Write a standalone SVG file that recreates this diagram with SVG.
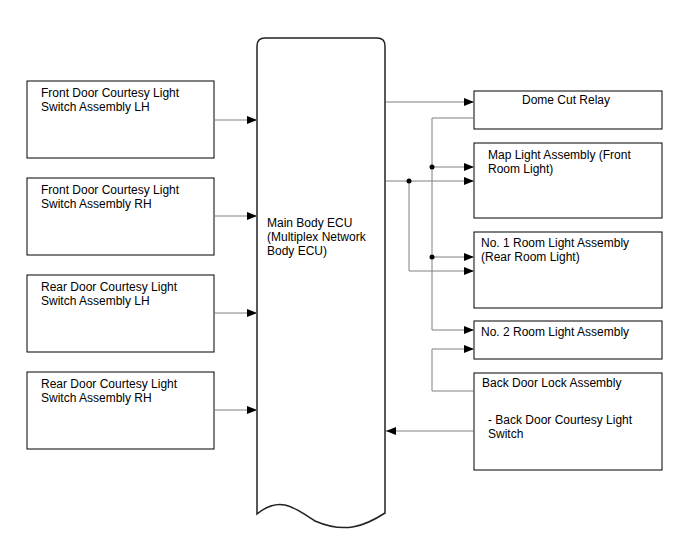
<svg xmlns="http://www.w3.org/2000/svg" width="688" height="560" viewBox="0 0 688 560">
<defs>
<style>
.box{fill:#fff;stroke:#000;stroke-width:1}
.ecu{fill:#fff;stroke:#222;stroke-width:1.5}
.t{font-family:"Liberation Sans",Arial,sans-serif;font-size:12px;fill:#000}
.c{fill:none;stroke:#808080;stroke-width:1}
.dot{fill:#000}
</style>
<marker id="ah" markerWidth="10" markerHeight="8" refX="10" refY="4" orient="auto" markerUnits="userSpaceOnUse">
<path d="M0,0 L10,4 L0,8 Z" fill="#000"/>
</marker>
</defs>
<rect width="688" height="560" fill="#fff"/>
<g id="ecu">
<path class="ecu" d="M257,514 L257,46 Q257,38 265,38 L377,38 Q385,38 385,46 L385,513 C365,526 345,534 315,521 C295,508 280,495 257,514 Z"/>
<text class="t" x="267" y="227">Main Body ECU</text>
<text class="t" x="267" y="241">(Multiplex Network</text>
<text class="t" x="267" y="255">Body ECU)</text>
</g>
<g id="fl">
<rect class="box" x="27" y="81" width="187" height="77"/>
<text class="t" x="41" y="97">Front Door Courtesy Light</text>
<text class="t" x="41" y="111">Switch Assembly LH</text>
</g>
<g id="fr">
<rect class="box" x="27" y="178" width="187" height="77"/>
<text class="t" x="41" y="194">Front Door Courtesy Light</text>
<text class="t" x="41" y="208">Switch Assembly RH</text>
</g>
<g id="rl">
<rect class="box" x="27" y="275" width="187" height="77"/>
<text class="t" x="41" y="291">Rear Door Courtesy Light</text>
<text class="t" x="41" y="305">Switch Assembly LH</text>
</g>
<g id="rr">
<rect class="box" x="27" y="372" width="187" height="77"/>
<text class="t" x="41" y="388">Rear Door Courtesy Light</text>
<text class="t" x="41" y="402">Switch Assembly RH</text>
</g>
<g id="dome">
<rect class="box" x="474" y="91" width="188" height="38"/>
<text class="t" x="522" y="104">Dome Cut Relay</text>
</g>
<g id="map">
<rect class="box" x="474" y="143" width="188" height="75"/>
<text class="t" x="488" y="159">Map Light Assembly (Front</text>
<text class="t" x="488" y="173">Room Light)</text>
</g>
<g id="no1">
<rect class="box" x="474" y="232" width="188" height="76"/>
<text class="t" x="481" y="247">No. 1 Room Light Assembly</text>
<text class="t" x="481" y="261">(Rear Room Light)</text>
</g>
<g id="no2">
<rect class="box" x="474" y="321" width="188" height="38"/>
<text class="t" x="481" y="336">No. 2 Room Light Assembly</text>
</g>
<g id="back">
<rect class="box" x="474" y="373" width="188" height="97"/>
<text class="t" x="482" y="387">Back Door Lock Assembly</text>
<text class="t" x="488" y="424">- Back Door Courtesy Light</text>
<text class="t" x="488" y="438">Switch</text>
</g>
<g id="connectors">
<line class="c" x1="214" y1="120" x2="257" y2="120" marker-end="url(#ah)"/>
<line class="c" x1="214" y1="216" x2="257" y2="216" marker-end="url(#ah)"/>
<line class="c" x1="214" y1="313" x2="257" y2="313" marker-end="url(#ah)"/>
<line class="c" x1="214" y1="410" x2="257" y2="410" marker-end="url(#ah)"/>
<line class="c" x1="386" y1="102" x2="474" y2="102" marker-end="url(#ah)"/>
<polyline class="c" points="474,118 432,118 432,330 474,330" marker-end="url(#ah)"/>
<line class="c" x1="432" y1="167" x2="474" y2="167" marker-end="url(#ah)"/>
<line class="c" x1="432" y1="257" x2="474" y2="257" marker-end="url(#ah)"/>
<line class="c" x1="386" y1="181" x2="474" y2="181" marker-end="url(#ah)"/>
<polyline class="c" points="409,181 409,271 474,271" marker-end="url(#ah)"/>
<polyline class="c" points="474,391 432,391 432,349 474,349" marker-end="url(#ah)"/>
<line class="c" x1="474" y1="431" x2="386" y2="431" marker-end="url(#ah)"/>
<circle class="dot" cx="432" cy="167" r="2.5"/>
<circle class="dot" cx="432" cy="257" r="2.5"/>
<circle class="dot" cx="409" cy="181" r="2.5"/>
</g>
</svg>
